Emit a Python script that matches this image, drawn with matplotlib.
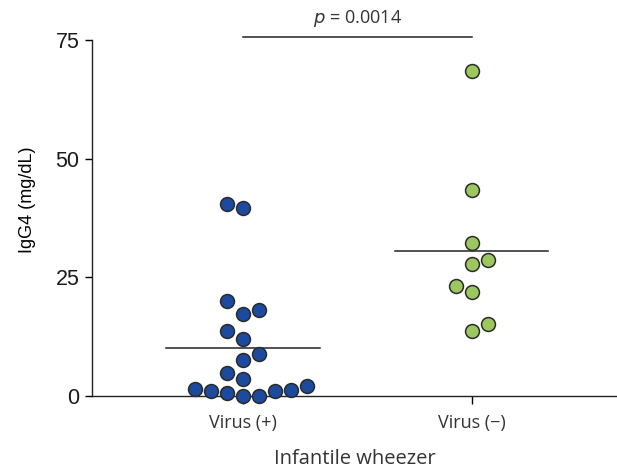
import numpy as np
import matplotlib
matplotlib.use("Agg")
import matplotlib.pyplot as plt

categories = ["Virus (+)", "Virus (\u2212)"]
virus_pos = [40.4, 39.6, 20.1, 17.3, 18.2, 13.6, 12.0, 8.9, 7.5, 4.8, 3.5,
             1.5, 1.06, 0.56, 0.0, 0.0, 1.06, 1.2, 2.2]
virus_pos_offset = [-1, 0, -1, 0, 1, -1, 0, 1, 0, -1, 0,
                    -3, -2, -1, 0, 1, 2, 3, 4]
virus_neg = [68.5, 43.3, 32.2, 27.9, 28.7, 23.2, 22.0, 15.1, 13.7]
virus_neg_offset = [0, 0, 0, 0, 1, -1, 0, 1, 0]
yticks = [0, 25, 50, 75]
p_text = "$\\it{p}$ = 0.0014"

blue = "#1c4a9e"
green = "#9cc75f"
edge = "#2b2b2b"
step = 0.07

fig = plt.figure(figsize=(6.17, 4.69), dpi=100)
ax = fig.add_axes([0.149, 0.1557, 0.851, 0.759])

for i, (vals, offs, col) in enumerate([(virus_pos, virus_pos_offset, blue),
                                        (virus_neg, virus_neg_offset, green)]):
    xs = i + np.array(offs) * step
    ax.scatter(xs, vals, s=100, c=col, edgecolors=edge, linewidths=1.1,
               zorder=3, clip_on=False)
    m = np.mean(vals)
    ax.plot([i - 0.335, i + 0.335], [m, m], color="#222222", lw=1.1, zorder=2)

ax.set_xlim(-0.66, 1.635)
ax.set_ylim(0, 75)
ax.set_yticks(yticks)
ax.set_xticks([0, 1])
ax.set_xticklabels(categories, fontsize=13, color="#333333", fontfamily="Open Sans")
ax.set_yticklabels([str(t) for t in yticks], fontsize=15.5, fontfamily="Liberation Sans",
                   color="#1a1a1a")
ax.tick_params(axis="y", direction="out", length=5, width=1, pad=4)
ax.tick_params(axis="x", direction="out", length=6, width=1, pad=7)
ax.spines["top"].set_visible(False)
ax.spines["right"].set_visible(False)
for s in ("left", "bottom"):
    ax.spines[s].set_linewidth(1)
    ax.spines[s].set_color("#222222")

ax.set_ylabel("IgG4 (mg/dL)", fontsize=13, fontfamily="Liberation Sans")
ax.yaxis.set_label_coords(-0.107, 0.55)
ax.set_xlabel("Infantile wheezer", fontsize=14.5, fontfamily="Open Sans", color="#333333", labelpad=12)

ax.plot([0, 1], [75.6, 75.6], color="#222222", lw=1.1, clip_on=False)
ax.text(0.5, 77.4, p_text, ha="center", va="bottom", fontsize=13,
        fontfamily="Open Sans", color="#333333", clip_on=False)

fig.savefig("out.png", dpi=100)
